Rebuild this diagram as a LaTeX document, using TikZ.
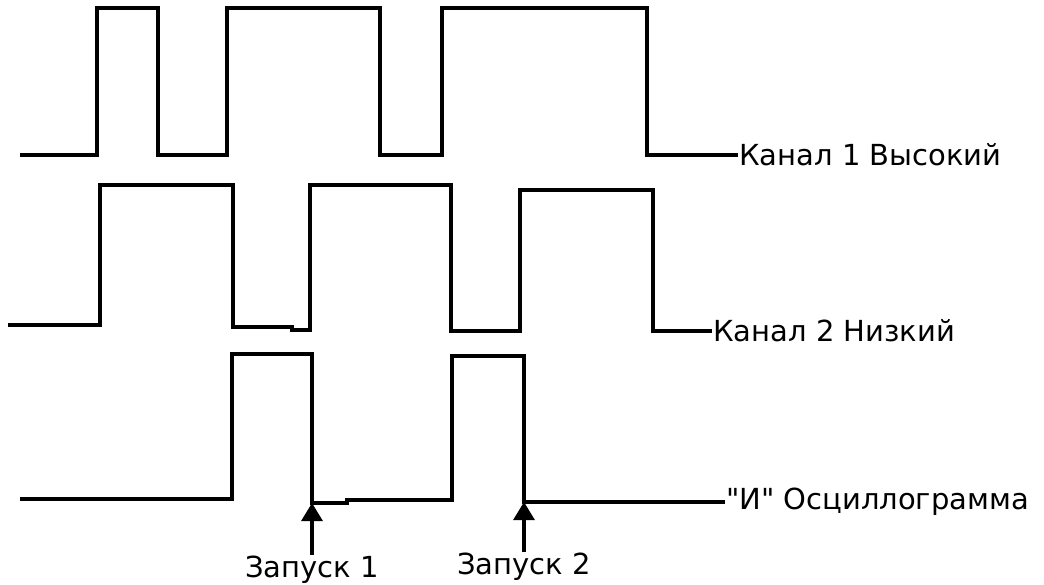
\documentclass[tikz,border=0pt]{standalone}
\usepackage{fontspec}
\setmainfont{DejaVu Sans}
\usetikzlibrary{positioning, arrows.meta}

\begin{document}
\begin{tikzpicture}[
    x=1pt, y=-1pt,
    wave/.style={line width=3.05pt, line join=miter},
    trig/.style={-{Triangle[length=18pt, width=21pt]}, line width=3.05pt},
    chlabel/.style={anchor=west, inner sep=1pt, font=\fontsize{29}{33}\selectfont},
    triglabel/.style={anchor=north, inner sep=1pt, font=\fontsize{29}{33}\selectfont}
]
\useasboundingbox (0,0) rectangle (1044,585);

% Labels on the right
\node[chlabel] (hi) at (738,155) {Канал 1 Высокий};
\node[chlabel] (lo) at (712,331) {Канал 2 Низкий};
\node[chlabel] (and) at (725,502) {\textquotedbl И\textquotedbl{} Осциллограмма};

% Channel 1
\draw[wave] (20,155) -| (97,8) -| (158,155) -| (227,8) -| (380,155)
    -| (442,8) -| (647,155) -- (hi.west);

% Channel 2
\draw[wave] (8,325) -| (100,185) -| (233,327) -- (292,327) -- (292,330)
    -| (310,185) -| (451,331) -| (520,190) -| (653,331) -- (lo.west);

% AND waveform
\coordinate (t1) at (312,503);
\coordinate (t2) at (524,502);
\draw[wave] (20,499) -| (232,354) -| (t1) -- (347,503) -- (347,500)
    -| (452,356) -| (t2) -- (and.west);

% Trigger points
\node[triglabel] (z1) at (312,555) {Запуск 1};
\node[triglabel] (z2) at (524,552) {Запуск 2};
\draw[trig] (z1.north) -- (t1);
\draw[trig] (z2.north) -- (t2);

\end{tikzpicture}
\end{document}
